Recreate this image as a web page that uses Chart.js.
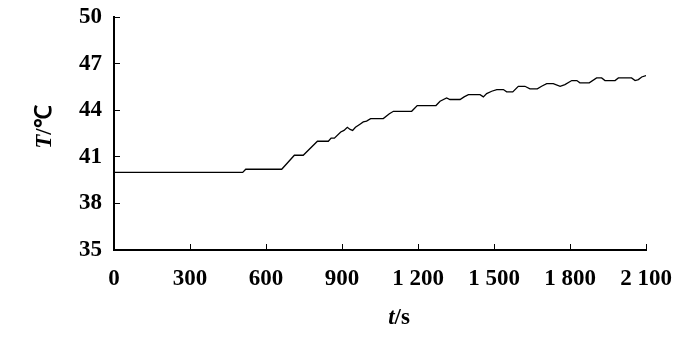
<!DOCTYPE html>
<html>
<head>
<meta charset="utf-8">
<script src="https://cdn.jsdelivr.net/npm/chart.js@4/dist/chart.umd.min.js"></script>
<style>
  html, body { margin: 0; padding: 0; background: #fff; }
  #wrap { width: 700px; height: 339px; }
</style>
</head>
<body>
<div id="wrap"><canvas id="tempChart"></canvas></div>
<script>
// time (s) and temperature (°C)
const timeS = [0, 508, 520, 662, 712, 747, 803, 846, 857, 870,
    895, 908, 921, 932, 942, 953, 971, 984, 997, 1013,
    1063, 1087, 1103, 1175, 1197, 1271, 1287, 1313, 1326, 1366,
    1382, 1399, 1445, 1458, 1471, 1491, 1511, 1537, 1550, 1574,
    1596, 1622, 1642, 1671, 1688, 1708, 1734, 1761, 1780, 1807,
    1827, 1839, 1876, 1905, 1925, 1938, 1978, 1991, 2043, 2057,
    2070, 2083, 2100];
const tempC = [40.0, 40.0, 40.2, 40.2, 41.1, 41.1, 42.0, 42.0, 42.2, 42.2,
    42.6, 42.7, 42.9, 42.76, 42.7, 42.9, 43.1, 43.25, 43.3, 43.46,
    43.46, 43.77, 43.93, 43.93, 44.3, 44.3, 44.58, 44.79, 44.69, 44.69,
    44.86, 45.0, 45.0, 44.86, 45.07, 45.22, 45.33, 45.33, 45.18, 45.18,
    45.54, 45.54, 45.37, 45.37, 45.54, 45.71, 45.71, 45.54, 45.65, 45.91,
    45.91, 45.76, 45.76, 46.08, 46.08, 45.91, 45.91, 46.08, 46.08, 45.91,
    45.97, 46.14, 46.23];

const xTickLabels = ['0', '300', '600', '900', '1 200', '1 500', '1 800', '2 100'];
const yTickLabels = ['35', '38', '41', '44', '47', '50'];

const points = timeS.map((t, i) => ({ x: t, y: tempC[i] }));

const serif = '"Liberation Serif", "Times New Roman", serif';

// axis titles with an italic variable letter
const axisTitles = {
    id: 'axisTitles',
    afterDraw(chart) {
        const c = chart.ctx;
        c.save();
        c.fillStyle = '#000';
        c.textBaseline = 'middle';
        const drawMixed = (parts, cx, cy) => {
            let w = 0;
            parts.forEach(p => { c.font = p.font; w += c.measureText(p.text).width; });
            let x = cx - w / 2;
            c.textAlign = 'left';
            parts.forEach(p => { c.font = p.font; c.fillText(p.text, x, cy); x += c.measureText(p.text).width; });
        };
        // x title
        drawMixed([
            { text: 't', font: 'italic bold 23px ' + serif },
            { text: '/s', font: 'bold 23px ' + serif }
        ], 399, 318);
        // y title
        c.translate(45, 127);
        c.rotate(-Math.PI / 2);
        drawMixed([
            { text: 'T', font: 'italic bold 23px ' + serif },
            { text: '/℃', font: 'bold 23px ' + serif }
        ], 0, 0);
        c.restore();
    }
};

const ctx = document.getElementById('tempChart').getContext('2d');
new Chart(ctx, {
    type: 'line',
    data: {
        datasets: [{
            data: points,
            borderColor: '#000',
            borderWidth: 1.3,
            pointRadius: 0,
            tension: 0,
            fill: false
        }]
    },
    options: {
        responsive: true,
        maintainAspectRatio: false,
        animation: false,
        events: [],
        layout: { padding: { top: 17, right: 54, left: 0, bottom: 0 } },
        plugins: {
            legend: { display: false },
            tooltip: { enabled: false }
        },
        scales: {
            x: {
                type: 'linear',
                min: 0,
                max: 2100,
                afterFit: s => { s.height = 89; s.paddingLeft = 0; s.paddingRight = 0; },
                afterBuildTicks: s => { s.ticks = xTickLabels.map((_, i) => ({ value: i * 300 })); },
                border: { color: '#000', width: 2 },
                grid: { drawOnChartArea: false, drawTicks: true, tickLength: -6, color: '#000', lineWidth: 1 },
                ticks: {
                    color: '#000',
                    padding: 21,
                    maxRotation: 0,
                    autoSkip: false,
                    font: { family: serif, size: 23, weight: 'bold' },
                    callback: (v, i) => xTickLabels[i]
                }
            },
            y: {
                min: 35,
                max: 50,
                afterFit: s => { s.width = 114; s.paddingTop = 0; s.paddingBottom = 0; },
                afterBuildTicks: s => { s.ticks = yTickLabels.map(l => ({ value: Number(l) })); },
                border: { color: '#000', width: 2 },
                grid: { drawOnChartArea: false, drawTicks: true, tickLength: -6, color: '#000', lineWidth: 1 },
                ticks: {
                    color: '#000',
                    padding: 18,
                    autoSkip: false,
                    font: { family: serif, size: 23, weight: 'bold' },
                    callback: (v, i) => yTickLabels[i]
                }
            }
        }
    },
    plugins: [axisTitles]
});
</script>
</body>
</html>
